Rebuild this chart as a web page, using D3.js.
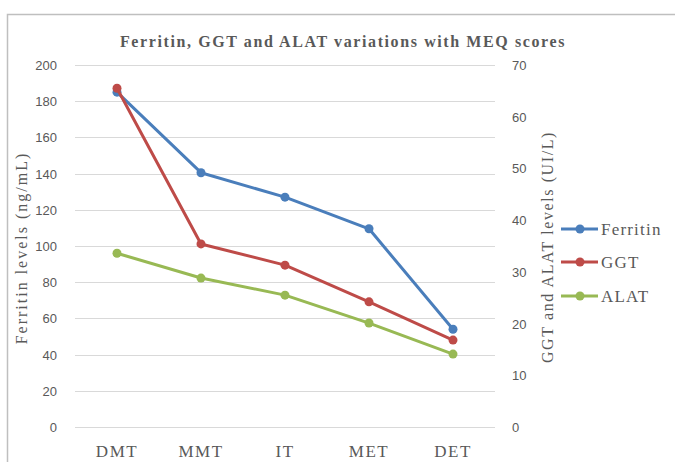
<!DOCTYPE html>
<html>
<head>
<meta charset="utf-8">
<script src="https://cdn.jsdelivr.net/npm/d3@7"></script>
<style>
  body { margin: 0; background: #fff; }
  svg text { fill: #595959; }
</style>
</head>
<body>
<div id="chart"></div>
<script>
// data
const categories = ["DMT", "MMT", "IT", "MET", "DET"];
const ferritin = [185, 140.5, 127, 109.5, 54];
const ggt = [65.5, 35.4, 31.3, 24.2, 16.8];
const alat = [33.6, 28.8, 25.5, 20.1, 14.1];
const leftTicks = [0, 20, 40, 60, 80, 100, 120, 140, 160, 180, 200];
const rightTicks = [0, 10, 20, 30, 40, 50, 60, 70];

const W = 675, H = 462;
const plot = {left: 75, right: 495, top: 65, bottom: 427};
const serif = "'Liberation Serif', 'Times New Roman', serif";
const sans = "'Liberation Sans', Arial, sans-serif";

const svg = d3.select("#chart").append("svg")
    .attr("width", W)
    .attr("height", H);

// outer frame (runs off the right/bottom edge as in the picture)
svg.append("rect")
    .attr("x", 7.5).attr("y", 14.5)
    .attr("width", W).attr("height", H)
    .attr("fill", "none")
    .attr("stroke", "#bfbfbf")
    .attr("stroke-width", 1.5);

const x = d3.scaleBand().domain(categories).range([plot.left, plot.right]);
const yL = d3.scaleLinear().domain([0, 200]).range([plot.bottom, plot.top]);
const yR = d3.scaleLinear().domain([0, 70]).range([plot.bottom, plot.top]);

// gridlines
svg.append("g").selectAll("line")
    .data(leftTicks)
    .join("line")
    .attr("x1", plot.left).attr("x2", plot.right)
    .attr("y1", d => Math.round(yL(d)) + 0.5)
    .attr("y2", d => Math.round(yL(d)) + 0.5)
    .attr("stroke", "#d9d9d9")
    .attr("stroke-width", 1);

// left axis
const axL = svg.append("g")
    .attr("transform", `translate(${plot.left - 18},0)`)
    .call(d3.axisLeft(yL).tickValues(leftTicks).tickSize(0).tickPadding(0));
axL.select(".domain").remove();
axL.selectAll("text")
    .style("font-family", sans)
    .style("font-size", "13px")
    .attr("dy", "0.35em");

// right axis
const axR = svg.append("g")
    .attr("transform", `translate(${plot.right + 17},0)`)
    .call(d3.axisRight(yR).tickValues(rightTicks).tickSize(0).tickPadding(0));
axR.select(".domain").remove();
axR.selectAll("text")
    .style("font-family", sans)
    .style("font-size", "13px")
    .attr("dy", "0.35em");

// x axis labels
const axX = svg.append("g")
    .attr("transform", `translate(0,${plot.bottom + 30})`)
    .call(d3.axisBottom(x).tickSize(0).tickPadding(0));
axX.select(".domain").remove();
axX.selectAll("text")
    .style("font-family", serif)
    .style("font-size", "17px")
    .style("letter-spacing", "1.5px")
    .attr("dy", "0");

// title
svg.append("text")
    .attr("x", 343).attr("y", 47)
    .attr("text-anchor", "middle")
    .style("font-family", serif)
    .style("font-size", "16px")
    .style("font-weight", "bold")
    .style("letter-spacing", "1.6px")
    .text("Ferritin, GGT and ALAT variations with MEQ scores");

// axis titles
svg.append("text")
    .attr("transform", "translate(27,248) rotate(-90)")
    .attr("text-anchor", "middle")
    .style("font-family", serif)
    .style("font-size", "16px")
    .style("letter-spacing", "2px")
    .text("Ferritin levels (ng/mL)");

svg.append("text")
    .attr("transform", "translate(553,247) rotate(-90)")
    .attr("text-anchor", "middle")
    .style("font-family", serif)
    .style("font-size", "16px")
    .style("letter-spacing", "1.6px")
    .text("GGT and ALAT levels (UI/L)");

// series
const series = [
    {name: "Ferritin", values: ferritin, scale: yL, color: "#4a7ebb"},
    {name: "GGT", values: ggt, scale: yR, color: "#be4b48"},
    {name: "ALAT", values: alat, scale: yR, color: "#98b954"}
];

const cx = d => x(d) + x.bandwidth() / 2;

// ferritin under GGT, like the DMT overlap in the picture
const drawOrder = [series[2], series[0], series[1]];
drawOrder.forEach(s => {
    const line = d3.line()
        .x((d, i) => cx(categories[i]))
        .y(d => s.scale(d));
    svg.append("path")
        .datum(s.values)
        .attr("d", line)
        .attr("fill", "none")
        .attr("stroke", s.color)
        .attr("stroke-width", 3)
        .attr("stroke-linejoin", "round");
    svg.append("g").selectAll("circle")
        .data(s.values)
        .join("circle")
        .attr("cx", (d, i) => cx(categories[i]))
        .attr("cy", d => s.scale(d))
        .attr("r", 4.5)
        .attr("fill", s.color);
});

// legend
const legend = svg.append("g");
const legendY = [229, 262, 296];
series.forEach((s, i) => {
    const g = legend.append("g").attr("transform", `translate(0,${legendY[i]})`);
    g.append("line")
        .attr("x1", 561).attr("x2", 598)
        .attr("stroke", s.color).attr("stroke-width", 3);
    g.append("circle")
        .attr("cx", 580).attr("r", 4.5).attr("fill", s.color);
    g.append("text")
        .attr("x", 601).attr("dy", "0.35em")
        .style("font-family", serif)
        .style("font-size", "17px")
        .style("letter-spacing", "1.2px")
        .text(s.name);
});
</script>
</body>
</html>
